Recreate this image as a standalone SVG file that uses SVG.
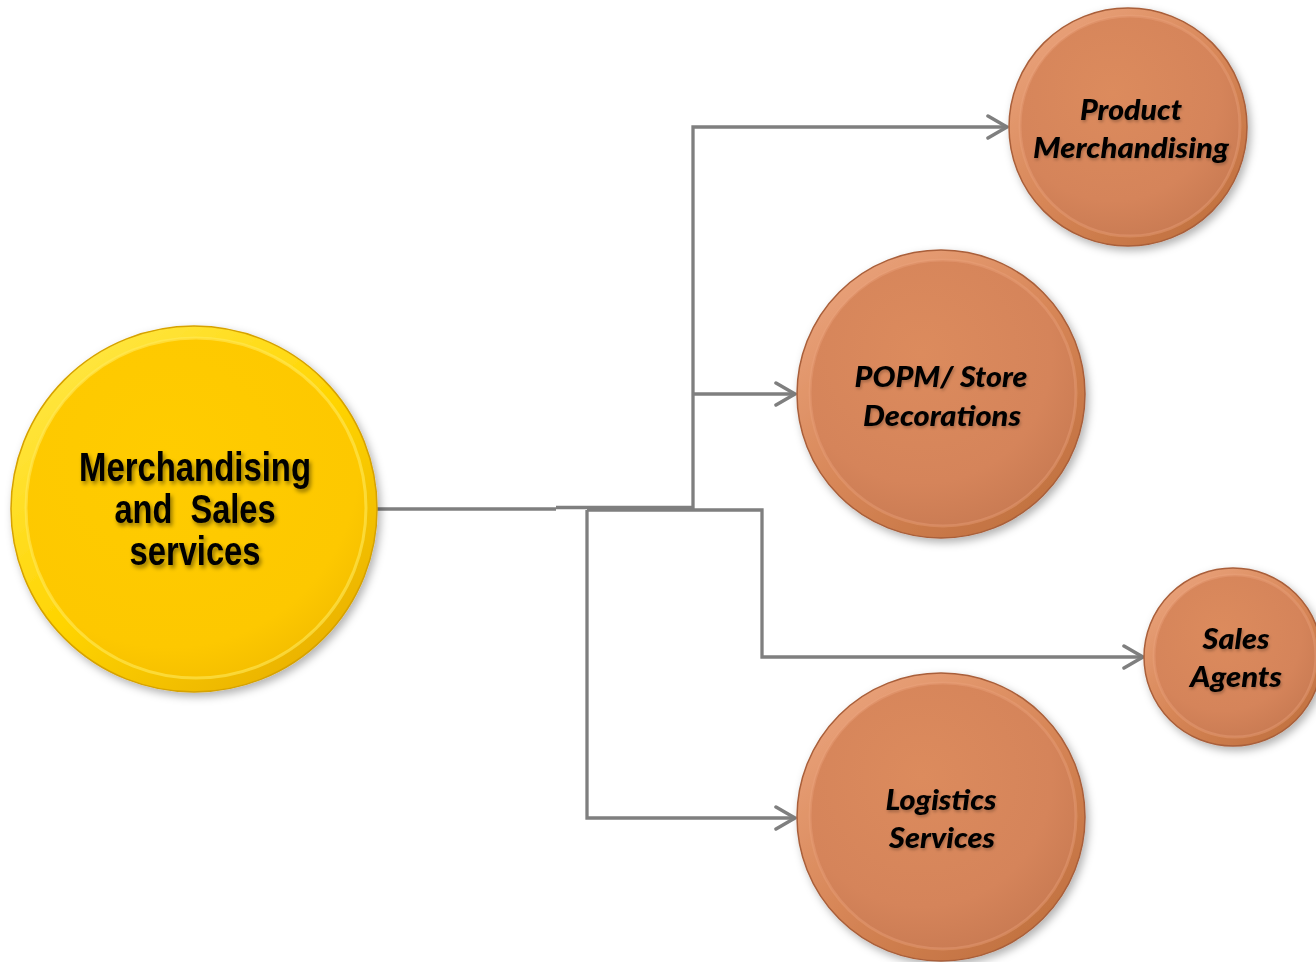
<svg xmlns="http://www.w3.org/2000/svg" width="1316" height="962" viewBox="0 0 1316 962">
  <defs>
    <style>
      .wire { fill: none; stroke: #7f7f7f; stroke-width: 3.3; }
      .arrow { marker-end: url(#chev); }
      .o-base { fill: url(#oRim); stroke: #a95f3a; stroke-width: 1.5; filter: url(#drop); }
      .o-face { fill: url(#oFace); stroke: #eaa27c; stroke-width: 3; stroke-opacity: 0.4; }
      .y-base { fill: url(#yRim); stroke: #d6a200; stroke-width: 1.5; filter: url(#drop); }
      .y-face { fill: url(#yFace); stroke: #ffe95a; stroke-width: 3; stroke-opacity: 0.6; }
      .lbl-o { font-family: Lato, "Open Sans", "Liberation Sans", sans-serif; font-weight: 900; font-style: italic; font-size: 28px; fill: #000; text-anchor: middle; filter: url(#tglow); }
      .lbl-y { font-family: "Liberation Sans", Arial, sans-serif; font-weight: bold; font-size: 40px; fill: #000; text-anchor: middle; filter: url(#tshadow); }
    </style>
    <marker id="chev" viewBox="-22 -13 25 26" refX="0" refY="0" markerWidth="25" markerHeight="26" markerUnits="userSpaceOnUse" orient="auto">
      <path d="M -19,-11 L 0,0 L -19,11" fill="none" stroke="#7f7f7f" stroke-width="3.5" stroke-linecap="round" stroke-linejoin="round"/>
    </marker>
    <linearGradient id="oRim" x1="0.15" y1="0.1" x2="0.85" y2="0.95">
      <stop offset="0" stop-color="#e8a078"/>
      <stop offset="0.5" stop-color="#d78657"/>
      <stop offset="1" stop-color="#c0703f"/>
    </linearGradient>
    <radialGradient id="oFace" cx="0.42" cy="0.35" r="0.7">
      <stop offset="0" stop-color="#dc8b5d"/>
      <stop offset="0.7" stop-color="#d5845a"/>
      <stop offset="1" stop-color="#c87a52"/>
    </radialGradient>
    <linearGradient id="yRim" x1="0.15" y1="0.1" x2="0.85" y2="0.95">
      <stop offset="0" stop-color="#ffe640"/>
      <stop offset="0.5" stop-color="#ffd400"/>
      <stop offset="1" stop-color="#e9b000"/>
    </linearGradient>
    <radialGradient id="yFace" cx="0.42" cy="0.35" r="0.7">
      <stop offset="0" stop-color="#ffcc00"/>
      <stop offset="0.8" stop-color="#fdc800"/>
      <stop offset="1" stop-color="#f3bd00"/>
    </radialGradient>
    <filter id="drop" x="-20%" y="-20%" width="140%" height="140%">
      <feDropShadow dx="3" dy="4" stdDeviation="4" flood-color="#000" flood-opacity="0.3"/>
    </filter>
    <filter id="tshadow" x="-10%" y="-30%" width="120%" height="160%">
      <feDropShadow dx="2" dy="3" stdDeviation="2" flood-color="#000" flood-opacity="0.45"/>
    </filter>
    <filter id="tglow" x="-10%" y="-30%" width="120%" height="160%">
      <feDropShadow dx="1" dy="2" stdDeviation="1.5" flood-color="#000" flood-opacity="0.25"/>
    </filter>
  </defs>

  <rect width="1316" height="962" fill="#ffffff"/>

  <!-- connectors -->
  <g id="connectors">
    <path class="wire" d="M 377,509 H 556"/>
    <path class="wire arrow" d="M 556,507.5 H 693 V 127 H 1007"/>
    <path class="wire arrow" d="M 693,394 H 795"/>
    <path class="wire arrow" d="M 587,510 H 762 V 657 H 1143"/>
    <path class="wire arrow" d="M 587,510 V 818 H 795"/>
  </g>

  <!-- central node -->
  <g id="node-merch-sales">
    <circle class="y-base" cx="194" cy="509" r="183"/>
    <circle class="y-face" cx="196" cy="508" r="170"/>
    <text class="lbl-y" x="195" y="481" textLength="232" lengthAdjust="spacingAndGlyphs">Merchandising</text>
    <text class="lbl-y" x="195" y="523" textLength="161" lengthAdjust="spacingAndGlyphs" xml:space="preserve">and  Sales</text>
    <text class="lbl-y" x="195" y="565" textLength="131" lengthAdjust="spacingAndGlyphs">services</text>
  </g>

  <g id="node-product">
    <circle class="o-base" cx="1128" cy="127" r="119"/>
    <circle class="o-face" cx="1130" cy="126" r="110"/>
    <text class="lbl-o" x="1131" y="120" textLength="102" lengthAdjust="spacingAndGlyphs">Product</text>
    <text class="lbl-o" x="1131" y="158" textLength="196" lengthAdjust="spacingAndGlyphs">Merchandising</text>
  </g>

  <g id="node-popm">
    <circle class="o-base" cx="941" cy="394" r="144"/>
    <circle class="o-face" cx="943" cy="393" r="133"/>
    <text class="lbl-o" x="941" y="387" textLength="173" lengthAdjust="spacingAndGlyphs">POPM/ Store</text>
    <text class="lbl-o" x="942" y="426" textLength="158" lengthAdjust="spacingAndGlyphs">Decorations</text>
  </g>

  <g id="node-sales-agents">
    <circle class="o-base" cx="1233" cy="657" r="89"/>
    <circle class="o-face" cx="1235" cy="656" r="81"/>
    <text class="lbl-o" x="1236" y="649" textLength="67" lengthAdjust="spacingAndGlyphs">Sales</text>
    <text class="lbl-o" x="1236" y="687" textLength="92" lengthAdjust="spacingAndGlyphs">Agents</text>
  </g>

  <g id="node-logistics">
    <circle class="o-base" cx="941" cy="817" r="144"/>
    <circle class="o-face" cx="943" cy="816" r="133"/>
    <text class="lbl-o" x="941" y="810" textLength="111" lengthAdjust="spacingAndGlyphs">Logistics</text>
    <text class="lbl-o" x="942" y="848" textLength="106" lengthAdjust="spacingAndGlyphs">Services</text>
  </g>
</svg>
